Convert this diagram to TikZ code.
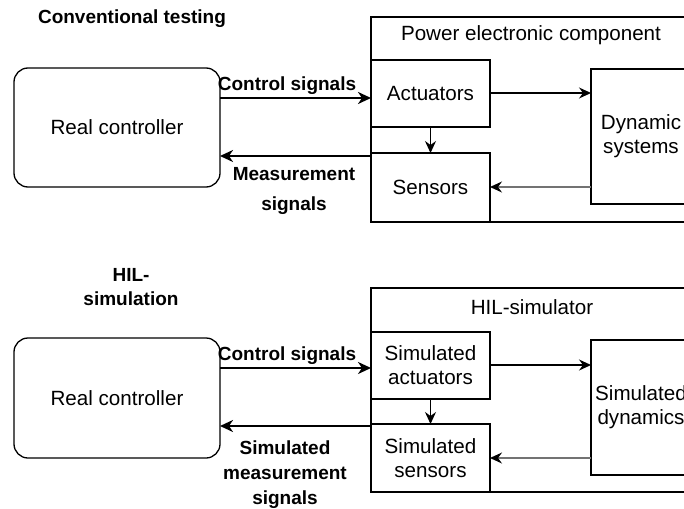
\documentclass[tikz,border=0pt]{standalone}
\usepackage{fontspec}
\setmainfont{Liberation Sans}
\usetikzlibrary{arrows.meta}
\begin{document}
\begin{tikzpicture}[x=1pt,y=-1pt,
  box/.style={draw, line width=1.3pt, inner sep=0pt, outer sep=0pt, anchor=north west, align=center, font=\fontsize{20.6}{24}\selectfont},
  rbox/.style={box, rounded corners=14pt},
  title/.style={inner sep=0pt, font=\fontsize{20.6}{24}\selectfont},
  blbl/.style={inner sep=0pt, align=center, font=\fontsize{19}{26}\selectfont\bfseries},
  sig/.style={line width=2.4pt, -{Stealth[length=13pt,width=12pt,inset=4pt]}},
  arr/.style={line width=1.3pt, -{Stealth[length=12pt,width=11pt,inset=4pt]}},
  garr/.style={line width=1.3pt, draw=black!55, -{Stealth[length=12pt,width=11pt,inset=4pt,black]}}]
\useasboundingbox (0,0) rectangle (684,508);
\clip (0,0) rectangle (684,508);

% ---------- Conventional testing ----------
\node[blbl] (h1) at (132,19) {Conventional testing};
\node[rbox, minimum width=206pt, minimum height=119pt] (rc1) at (14,68) {Real controller};
\node[box, minimum width=320pt, minimum height=205pt] (pec) at (371,17) {};
\node[title] (pect) at (531,35) {Power electronic component};
\node[box, minimum width=119pt, minimum height=67pt] (act) at (371,60) {Actuators};
\node[box, minimum width=119pt, minimum height=69pt] (sen) at (371,153) {Sensors};
\node[box, minimum width=100pt, minimum height=135pt] (dyn) at (591,69) {Dynamic\\systems};

\draw[sig] (rc1.east |- 0,98) -- (pec.west |- 0,98);
\node[blbl] (cs1) at (287,86) {Control signals};
\draw[sig] (pec.west |- 0,156) -- (rc1.east |- 0,156);
\node[blbl, font=\fontsize{19}{30}\selectfont\bfseries] (ms1) at (294,191) {Measurement\\signals};

\draw[arr] (act.east |- 0,93) -- (dyn.west |- 0,93);
\draw[arr] (act.south) -- (sen.north);
\draw[garr] (dyn.west |- 0,187) -- (sen.east |- 0,187);

% ---------- HIL simulation ----------
\node[blbl, font=\fontsize{19}{24}\selectfont\bfseries] (h2) at (131,287) {HIL-\\simulation};
\node[rbox, minimum width=206pt, minimum height=120pt] (rc2) at (14,338) {Real controller};
\node[box, minimum width=320pt, minimum height=204pt] (hil) at (371,288) {};
\node[title] (hilt) at (532,307) {HIL-simulator};
\node[box, minimum width=119pt, minimum height=67pt] (sact) at (371,332) {Simulated\\actuators};
\node[box, minimum width=119pt, minimum height=68pt] (ssen) at (371,424) {Simulated\\sensors};
\node[box, minimum width=100pt, minimum height=135pt] (sdyn) at (591,340) {Simulated\\dynamics};

\draw[sig] (rc2.east |- 0,368) -- (hil.west |- 0,368);
\node[blbl] (cs2) at (287,356) {Control signals};
\draw[sig] (hil.west |- 0,426) -- (rc2.east |- 0,426);
\node[blbl, font=\fontsize{19}{25}\selectfont\bfseries] (ms2) at (285,475) {Simulated\\measurement\\signals};

\draw[arr] (sact.east |- 0,365) -- (sdyn.west |- 0,365);
\draw[arr] (sact.south) -- (ssen.north);
\draw[garr] (sdyn.west |- 0,458) -- (ssen.east |- 0,458);
\end{tikzpicture}
\end{document}
